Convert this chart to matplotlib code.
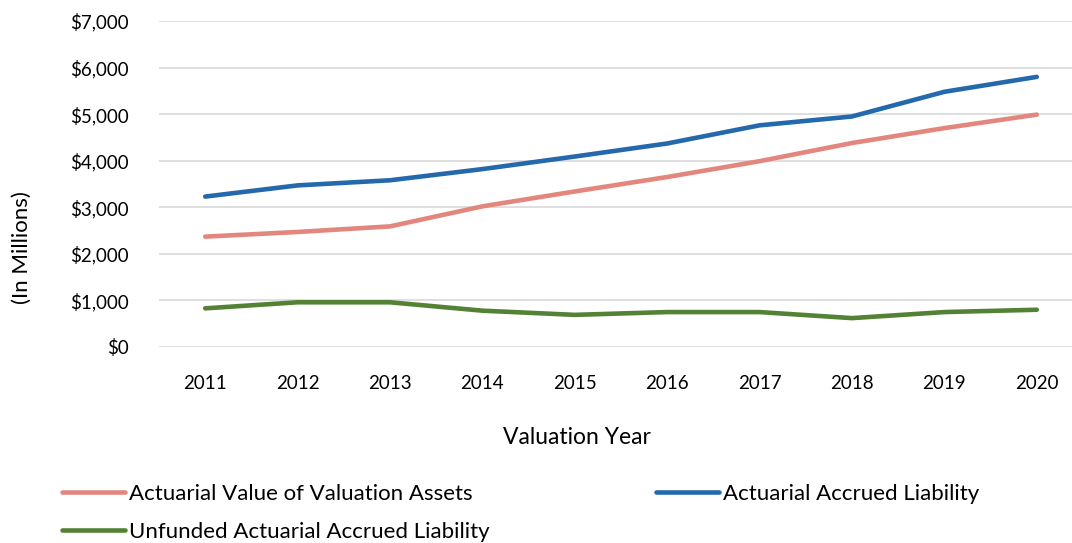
import matplotlib
matplotlib.use("Agg")
import matplotlib.pyplot as plt
from matplotlib.ticker import FuncFormatter

years = ["2011", "2012", "2013", "2014", "2015", "2016", "2017", "2018", "2019", "2020"]
assets = [2370, 2470, 2590, 3020, 3340, 3650, 3990, 4380, 4700, 4990]
liability = [3230, 3470, 3580, 3820, 4090, 4370, 4760, 4950, 5480, 5800]
unfunded = [830, 960, 960, 780, 690, 750, 750, 620, 750, 800]

plt.rcParams['font.family'] = ['Lato', 'DejaVu Sans']

W, H = 1072, 543
fig = plt.figure(figsize=(W / 100, H / 100), dpi=100)
ax = fig.add_axes([159 / W, 1 - 347 / H, (W - 159) / W, (347 - 21) / H])

x = list(range(len(years)))
l1, = ax.plot(x, assets, color="#E3877E", lw=3.3, solid_capstyle="round", label="Actuarial Value of Valuation Assets")
l2, = ax.plot(x, liability, color="#2369AB", lw=3.3, solid_capstyle="round", label="Actuarial Accrued Liability")
l3, = ax.plot(x, unfunded, color="#548235", lw=3.3, solid_capstyle="round", label="Unfunded Actuarial Accrued Liability")

ax.set_ylim(0, 7000)
ax.set_yticks(range(0, 7001, 1000))
ax.yaxis.set_major_formatter(FuncFormatter(lambda v, p: f"${v:,.0f}"))
ax.set_xlim(-0.5, 9.5 - 11 / 92.4)
ax.set_xticks(x)
ax.set_xticklabels(years)
ax.grid(axis="y", color="#D9D9D9", lw=1.2)
ax.set_axisbelow(True)
for s in ax.spines.values():
    s.set_visible(False)
ax.tick_params(axis="both", length=0, labelsize=13.5, colors="#000000")
ax.tick_params(axis="x", pad=20)
ax.tick_params(axis="y", pad=22)

fig.text(577 / W, 1 - 437 / H, "Valuation Year", ha="center", va="center", fontsize=16.5)
fig.text(22 / W, 1 - 248 / H, "(In Millions)", ha="center", va="center", rotation=90, fontsize=16)

leg = fig.legend(handles=[l1, l3, l2], ncol=2, loc="upper left",
                 bbox_to_anchor=(42 / W, 1 - 464 / H), frameon=False,
                 fontsize=16, handlelength=2.85, handletextpad=0.15,
                 columnspacing=7.5, labelspacing=0.81)

fig.savefig("out.png", dpi=100)
